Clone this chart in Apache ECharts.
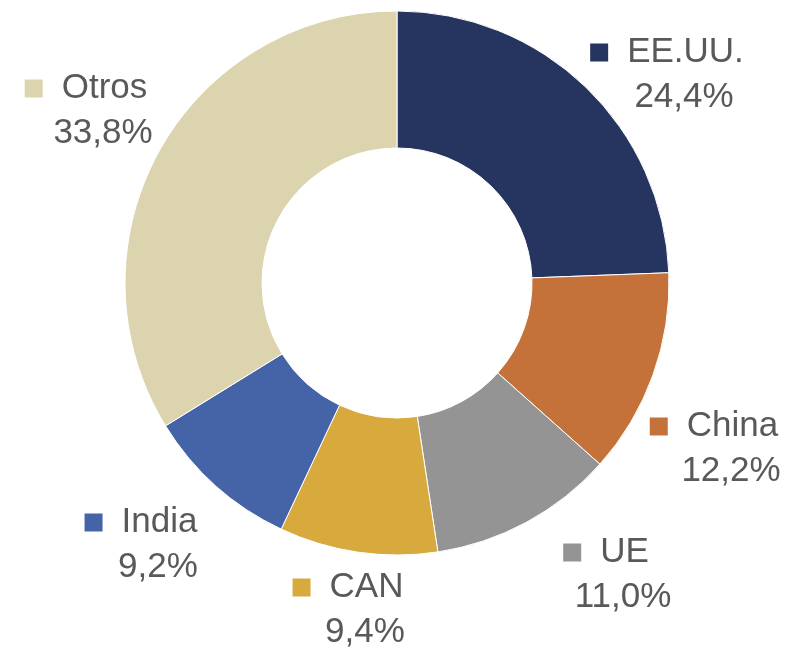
<!DOCTYPE html>
<html>
<head>
<meta charset="utf-8">
<style>
  html, body { margin: 0; padding: 0; background: #fff; }
  #chart { width: 791px; height: 647px; }
</style>
<script src="https://cdn.jsdelivr.net/npm/echarts@6/dist/echarts.min.js"></script>
</head>
<body>
<div id="chart"></div>
<script>
// datos del gráfico
const categorias = ['EE.UU.', 'China', 'UE', 'CAN', 'India', 'Otros']
const valores = [24.4, 12.2, 11.0, 9.4, 9.2, 33.8]
const colores = ['#25355f', '#c4723a', '#949494', '#d8a93d', '#4563a7', '#dcd4ae']

// centro de cada etiqueta (px)
const posEtiquetas = [[667, 75], [714, 449], [606, 575], [348, 610], [141, 545], [86, 111]]

const myChart = echarts.init(document.getElementById('chart'))

const texto = { fontSize: 35, color: '#595959', fontFamily: 'Liberation Sans, Arial, sans-serif' }

const option = {
  animation: false,
  series: [{
    type: 'pie',
    center: [397, 283],
    radius: [135, 272],
    startAngle: 90,
    clockwise: true,
    avoidLabelOverlap: false,
    itemStyle: { borderColor: '#fff', borderWidth: 1 },
    label: {
      show: true,
      position: 'outside',
      color: '#595959',
      fontFamily: 'Liberation Sans, Arial, sans-serif',
      fontSize: 35,
      lineHeight: 45,
      align: 'center',
      formatter: (p) => '{m|}{n|' + p.name + '}\n{p|' + p.value.toFixed(1).replace('.', ',') + '%}'
    },
    labelLine: { show: false },
    labelLayout: (params) => {
      const pos = posEtiquetas[params.dataIndex]
      return { x: pos[0], y: pos[1], align: 'center', verticalAlign: 'middle' }
    },
    data: categorias.map((c, i) => ({
      name: c,
      value: valores[i],
      itemStyle: { color: colores[i] },
      label: {
        rich: {
          m: { width: 18, height: 18, backgroundColor: colores[i] },
          n: { ...texto, padding: [0, 0, 0, 19] },
          p: { ...texto, padding: [0, 0, 0, 34] }
        }
      }
    }))
  }]
}

myChart.setOption(option)
</script>
</body>
</html>
